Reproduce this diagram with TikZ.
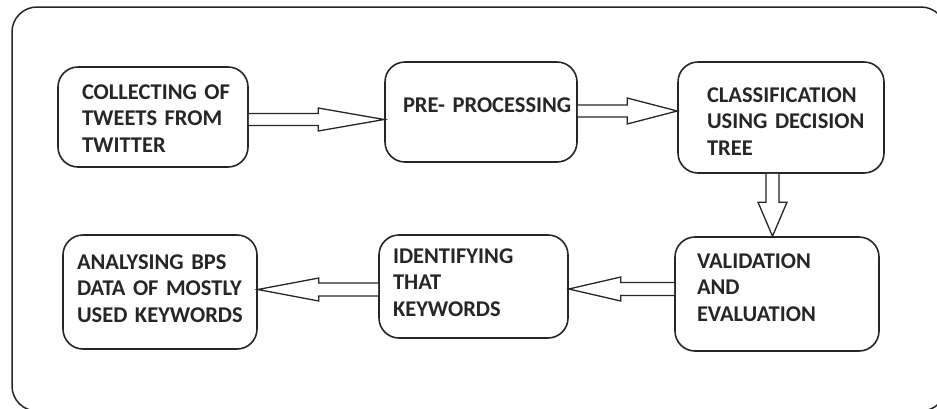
\documentclass[tikz,border=0pt]{standalone}
\usepackage{fontspec}
\setmainfont{Carlito}
\usetikzlibrary{calc}
\tikzset{
  box/.style={draw=black!85, line width=1.6pt, rounded corners=20pt, align=left,
    font=\fontsize{22.5}{26.5}\selectfont\bfseries,
    text=black!85, text height=0pt},
  barrow/.style={draw=black!85, line width=1.3pt, fill=white, line join=miter},
  frame/.style={draw=black!85, line width=1.5pt, rounded corners=25pt}
}
\newcommand{\harrow}[6]{%
  \coordinate (s) at (#1 |- 0,#3);
  \coordinate (t) at (#2 |- 0,#3);
  \draw[barrow] ($(s)+(0,-#4)$) -- ($(t)+({-(#6)},-#4)$) -- ($(t)+({-(#6)},-#5)$) -- (t)
     -- ($(t)+({-(#6)},#5)$) -- ($(t)+({-(#6)},#4)$) -- ($(s)+(0,#4)$);
}
\newcommand{\varrow}[6]{%
  \coordinate (s) at (#1 -| #3,0);
  \coordinate (t) at (#2 -| #3,0);
  \draw[barrow] ($(s)+(-#4,0)$) -- ($(t)+(-#4,{-(#6)})$) -- ($(t)+(-#5,{-(#6)})$) -- (t)
     -- ($(t)+(#5,{-(#6)})$) -- ($(t)+(#4,{-(#6)})$) -- ($(s)+(#4,0)$);
}
\begin{document}
\begin{tikzpicture}[x=1pt,y=-1pt]
\useasboundingbox (0,0) rectangle (937,408);
\draw[frame] (12,7) rectangle (946,411);

\node[box, minimum width=190pt, minimum height=100pt, inner xsep=24pt, text width=142pt, text depth=36pt]
  (b1) at (153,117) {\mbox{COLLECTING OF}\\\mbox{TWEETS FROM}\\\mbox{TWITTER}};
\node[box, minimum width=192pt, minimum height=100pt, inner xsep=18pt, text width=156pt, text depth=0pt]
  (b2) at (481,112) {\mbox{PRE- PROCESSING}};
\node[box, minimum width=206pt, minimum height=111pt, inner xsep=29pt, text width=148pt, text depth=31pt]
  (b3) at (781,117.5) {\mbox{CLASSIFICATION}\\\mbox{USING DECISION}\\\mbox{TREE}};
\node[box, minimum width=204pt, minimum height=114pt, inner xsep=22pt, text width=160pt, text depth=52pt]
  (b4) at (777,294) {\mbox{VALIDATION}\\\mbox{AND}\\\mbox{EVALUATION}};
\node[box, minimum width=189pt, minimum height=103pt, inner xsep=14pt, text width=161pt, text depth=47pt]
  (b5) at (473.5,286.5) {\mbox{IDENTIFYING}\\\mbox{THAT}\\\mbox{KEYWORDS}};
\node[box, minimum width=194pt, minimum height=114pt, inner xsep=14pt, text width=166pt, text depth=46pt]
  (b6) at (160,292) {\mbox{ANALYSING BPS}\\\mbox{DATA OF MOSTLY}\\\mbox{USED KEYWORDS}};

\harrow{b1.east}{b2.west}{119.5}{6}{11.5}{66}
\harrow{b2.east}{b3.west}{111}{6}{13}{50}
\varrow{b3.south}{b4.north}{772.5}{6.5}{14.5}{34}
\harrow{b4.west}{b5.east}{289}{6.5}{12}{-52}
\harrow{b5.west}{b6.east}{289.5}{6.5}{11.5}{-61}
\end{tikzpicture}
\end{document}
